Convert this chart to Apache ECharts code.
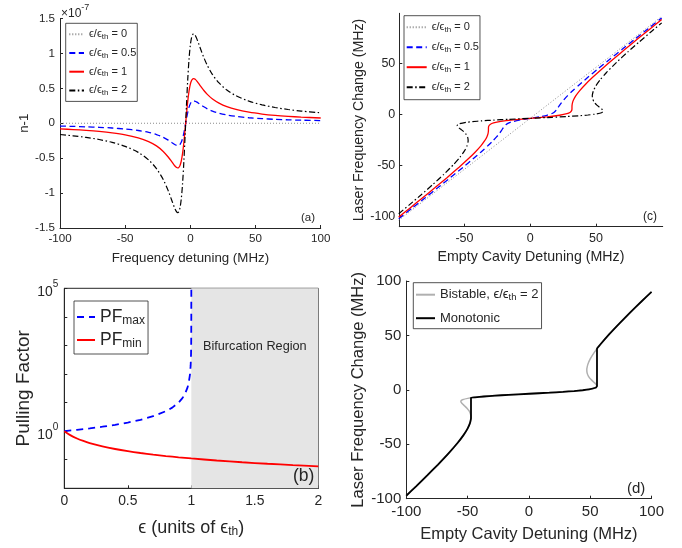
<!DOCTYPE html>
<html><head><meta charset="utf-8">
<script src="https://cdn.jsdelivr.net/npm/echarts@6/dist/echarts.min.js"></script>
<style>html,body{margin:0;padding:0;background:#fff}#c{width:682px;height:548px}</style>
</head><body><div id="c"></div>
<script>
// ---------- Panel (a): n-1 (units of 1e-7) vs frequency detuning (MHz)
const detuningA = [-100,-90,-80,-70,-60,-50,-40,-32,-26,-21,-17,-14,-12,-10.5,-9.7,-9,-8,-7,-6,-5,-4,-3,-2,-1,0,1,2,2.5,3.2,4,5,6.5,8,10,13,17,22,28,35,45,55,65,75,85,100];
const detuningA0 = [-100, 100];
const nA_eps0 = [0, 0];
const nA_eps05 = [-0.040,-0.045,-0.051,-0.058,-0.068,-0.083,-0.104,-0.131,-0.162,-0.200,-0.241,-0.279,-0.304,-0.318,-0.320,-0.318,-0.304,-0.272,-0.218,-0.140,-0.042,0.062,0.157,0.231,0.280,0.308,0.319,0.320,0.318,0.312,0.302,0.283,0.264,0.239,0.207,0.174,0.144,0.119,0.099,0.079,0.066,0.056,0.049,0.044,0.038];
const nA_eps1 = [-0.081,-0.090,-0.102,-0.117,-0.137,-0.165,-0.209,-0.263,-0.324,-0.400,-0.483,-0.558,-0.609,-0.635,-0.640,-0.635,-0.607,-0.544,-0.436,-0.279,-0.084,0.125,0.314,0.462,0.560,0.615,0.638,0.640,0.636,0.625,0.604,0.566,0.527,0.478,0.414,0.348,0.289,0.238,0.197,0.158,0.132,0.113,0.099,0.088,0.075];
const nA_eps2 = [-0.161,-0.180,-0.203,-0.233,-0.274,-0.331,-0.417,-0.526,-0.649,-0.799,-0.965,-1.117,-1.217,-1.270,-1.280,-1.271,-1.215,-1.089,-0.872,-0.558,-0.167,0.249,0.628,0.923,1.121,1.231,1.275,1.280,1.272,1.250,1.208,1.133,1.055,0.956,0.829,0.697,0.577,0.476,0.395,0.316,0.264,0.226,0.197,0.175,0.150];

// ---------- Panel (c): laser frequency change vs empty cavity detuning (MHz)
const cavC_eps0 = [-100, 100];
const lasC_eps0 = [-103.6, 96.4];
const cavC_eps05 = [-100.01,-89.69,-79.90,-70.18,-60.55,-51.06,-43.65,-37.38,-32.27,-28.31,-25.45,-23.55,-21.90,-20.38,-18.25,-16.20,-12.70,-7.18,0,7.18,12.70,16.20,18.25,20.38,21.90,23.55,25.45,28.31,32.27,37.38,43.65,51.06,60.55,70.18,79.90,89.69,100.01];
const lasC_eps05 = [-102.1,-91.6,-81.6,-71.6,-61.6,-51.6,-43.6,-36.6,-30.6,-25.6,-21.6,-18.6,-15.6,-12.6,-9.6,-8.1,-6.6,-5.1,-3.6,-2.1,-0.6,0.9,2.4,5.4,8.4,11.4,14.4,18.4,23.4,29.4,36.4,44.4,54.4,64.4,74.4,84.4,94.9];
const cavC_eps1 = [-100.07,-91.38,-81.81,-72.36,-63.10,-54.13,-47.30,-41.76,-37.53,-34.62,-32.90,-32.10,-31.81,-31.78,-31.76,-31.49,-30.50,-27.91,-22.40,-12.86,0,12.86,22.40,27.91,30.50,31.49,31.76,31.78,31.81,32.10,32.90,34.62,37.53,41.76,47.30,54.13,63.10,72.36,81.81,91.38,100.07];
const lasC_eps1 = [-100.6,-91.6,-81.6,-71.6,-61.6,-51.6,-43.6,-36.6,-30.6,-25.6,-21.6,-18.6,-16.1,-14.17,-12.6,-11.1,-9.6,-8.1,-6.6,-5.1,-3.6,-2.1,-0.6,0.9,2.4,3.9,5.4,6.97,8.9,11.4,14.4,18.4,23.4,29.4,36.4,44.4,54.4,64.4,74.4,84.4,93.4];
const cavC_eps2 = [-100.05,-92.0,-82.92,-74.12,-65.74,-58.05,-53.34,-50.03,-48.07,-47.28,-47.23,-47.52,-48.62,-50.69,-52.57,-54.52,-55.54,-54.24,-48.94,-43.92,-36.89,-27.73,-16.65,0,16.65,27.73,36.89,43.92,48.94,54.24,55.54,54.52,52.57,50.69,48.62,47.52,47.23,47.28,48.07,50.03,53.34,58.05,65.74,74.12,82.92,92.0,100.05];
const lasC_eps2 = [-97.3,-88.6,-78.6,-68.6,-58.6,-48.6,-41.6,-35.6,-30.6,-26.6,-25.4,-22.6,-19.6,-16.6,-14.6,-12.6,-10.66,-9.1,-7.6,-6.85,-6.1,-5.35,-4.6,-3.6,-2.6,-1.85,-1.1,-0.35,0.4,1.9,3.46,5.4,7.4,9.4,12.4,15.4,18.2,19.4,23.4,28.4,34.4,41.4,51.4,61.4,71.4,81.4,90.1];
const xTicksC = [-50, 0, 50];
const yTicksC = [-100, -50, 0, 50];

// ---------- Panel (b): pulling factor vs epsilon (units of eps_th)
const epsB_max = [0,0.1,0.2,0.3,0.4,0.5,0.6,0.7,0.8,0.85,0.9,0.93,0.95,0.97,0.98,0.99,0.995,0.998,0.999,0.9995,0.9999,0.99999];
const pfMax = [1,1.111,1.25,1.429,1.667,2,2.5,3.333,5,6.667,10,14.29,20,33.33,50,100,200,500,1000,2000,10000,100000];
const epsB_min = [0,0.05,0.1,0.15,0.2,0.3,0.4,0.5,0.6,0.7,0.8,0.9,1.0,1.2,1.4,1.6,1.8,2.0];
const pfMin = [1,0.7135,0.5546,0.4536,0.3837,0.2933,0.2374,0.1994,0.1719,0.1510,0.1347,0.1216,0.1107,0.0940,0.0817,0.0722,0.0647,0.0586];
const bifurcationRange = [1, 2];

// ---------- Panel (d): bistable vs monotonic response
const cavD_mono = [-100.05,-92.0,-82.92,-74.12,-65.74,-58.05,-53.34,-50.03,-48.07,-47.28,-47.23,-47.23,-43.92,-36.89,-27.73,-16.65,0,16.65,27.73,36.89,43.92,48.94,54.24,55.54,55.54,58.05,65.74,74.12,82.92,92.0,100.05];
const lasD_mono = [-97.3,-88.6,-78.6,-68.6,-58.6,-48.6,-41.6,-35.6,-30.6,-26.6,-25.4,-7.31,-6.85,-6.1,-5.35,-4.6,-3.6,-2.6,-1.85,-1.1,-0.35,0.4,1.9,3.46,37.7,41.4,51.4,61.4,71.4,81.4,90.1];

// ---------- helpers
const FONT = '"Liberation Sans", "DejaVu Sans", Arial, sans-serif';
const AX = '#262626';
const zip = (xs, ys) => xs.map((x, i) => [x, ys[i]]);

function axis(o) {
  const a = {
    gridIndex: o.grid, type: o.type || 'value', min: o.min, max: o.max,
    axisLine: { show: true, onZero: false, lineStyle: { color: AX, width: 1 } },
    axisTick: { show: true, inside: true, length: 3, lineStyle: { color: AX, width: 1 } },
    axisLabel: { color: AX, fontFamily: FONT, fontSize: o.fs, margin: o.margin || 5 },
    splitLine: { show: false },
    name: o.name, nameLocation: 'middle', nameGap: o.nameGap,
    nameTextStyle: { color: AX, fontFamily: FONT, fontSize: o.nfs, rich: o.nrich }
  };
  if (o.interval !== undefined) a.interval = o.interval;
  if (o.ticks) { a.axisLabel.customValues = o.ticks; a.axisTick.customValues = o.ticks; }
  if (o.formatter) a.axisLabel.formatter = o.formatter;
  if (o.rich) a.axisLabel.rich = o.rich;
  if (o.logBase) a.logBase = o.logBase;
  return a;
}

const epsRich = (fs, sfs) => ({
  e: { fontFamily: FONT, fontSize: fs, color: AX, lineHeight: fs + 3 },
  s: { fontFamily: FONT, fontSize: sfs, color: AX, padding: [Math.round(fs*0.45), 0, 0, 0], lineHeight: fs + 3 }
});
const legendLabels = {
  a0: '{e|ϵ/ϵ}{s|th}{e| = 0}', a05: '{e|ϵ/ϵ}{s|th}{e| = 0.5}', a1: '{e|ϵ/ϵ}{s|th}{e| = 1}', a2: '{e|ϵ/ϵ}{s|th}{e| = 2}',
  c0: '{e|ϵ/ϵ}{s|th}{e| = 0}', c05: '{e|ϵ/ϵ}{s|th}{e| = 0.5}', c1: '{e|ϵ/ϵ}{s|th}{e| = 1}', c2: '{e|ϵ/ϵ}{s|th}{e| = 2}',
  bmax: '{e|PF}{s|max}', bmin: '{e|PF}{s|min}',
  dbis: '{e|Bistable, ϵ/ϵ}{s|th}{e| = 2}', dmono: '{e|Monotonic}'
};

const DOT = { color: '#8a8a8a', width: 1, type: [1, 2] };
const DASH = { color: '#0000ff', width: 1.3, type: [6, 3.5] };
const SOLID = { color: '#ff0000', width: 1.3, type: 'solid' };
const DASHDOT = { color: '#000000', width: 1.2, type: [6, 2.5, 1.5, 2.5] };

function line(name, xi, data, ls, extra) {
  return Object.assign({
    type: 'line', name, xAxisIndex: xi, yAxisIndex: xi, data, symbol: 'none',
    showSymbol: false, color: ls.color, lineStyle: ls, z: 3, silent: true, animation: false
  }, extra || {});
}

function legend(o) {
  return {
    data: o.data, orient: 'vertical', left: o.left, top: o.top,
    backgroundColor: '#fff', borderColor: AX, borderWidth: 0.8, borderRadius: 0,
    padding: o.padding, itemWidth: o.itemWidth, itemHeight: 6, itemGap: o.itemGap,
    selectedMode: false,
    itemStyle: { opacity: 0 },
    formatter: n => legendLabels[n],
    textStyle: { fontFamily: FONT, fontSize: o.fs, color: AX, rich: epsRich(o.fs, o.sfs) }
  };
}

const option = {
  animation: false,
  backgroundColor: '#fff',
  grid: [
    { left: 60, top: 18.5, width: 260.7, height: 209.5 },
    { left: 399.3, top: 13.3, width: 263.4, height: 213.4 },
    { left: 64.3, top: 288.3, width: 254, height: 200, show: true, borderColor: AX, borderWidth: 1, backgroundColor: 'transparent' },
    { left: 406.3, top: 281, width: 245.2, height: 217.7 }
  ],
  xAxis: [
    axis({ grid: 0, min: -100, max: 100, interval: 50, fs: 11.6, name: 'Frequency detuning (MHz)', nameGap: 23.5, nfs: 13.3 }),
    axis({ grid: 1, min: -99.6, max: 100.8, ticks: xTicksC, fs: 12.5, name: 'Empty Cavity Detuning (MHz)', nameGap: 23.5, nfs: 14.2 }),
    axis({ grid: 2, min: 0, max: 2, interval: 0.5, fs: 13.9, margin: 6,
      name: '{e|ϵ (units of ϵ}{s|th}{e|)}', nameGap: 29, nfs: 18, nrich: epsRich(18, 12) }),
    axis({ grid: 3, min: -100, max: 100, interval: 50, fs: 15, margin: 6, name: 'Empty Cavity Detuning (MHz)', nameGap: 27.5, nfs: 16.5 })
  ],
  yAxis: [
    axis({ grid: 0, min: -1.5, max: 1.5, interval: 0.5, fs: 11.6, name: 'n-1', nameGap: 15.5, nfs: 13.3 }),
    axis({ grid: 1, min: -110, max: 99.5, ticks: yTicksC, fs: 12.5, margin: 4, name: 'Laser Frequency Change (MHz)', nameGap: 27, nfs: 14.2 }),
    axis({ grid: 2, type: 'log', logBase: 10, min: 0.01, max: 100000, fs: 13.9, margin: 6,
      formatter: v => { const e = Math.round(Math.log10(v)); return (e === 0 || e === 5) ? '{b|10}{p|' + e + '}' : ''; },
      rich: { b: { fontFamily: FONT, fontSize: 13.9, color: AX, padding: [8, 0, 0, 0] }, p: { fontFamily: FONT, fontSize: 10, color: AX, padding: [0, 0, 8, 0] } },
      name: 'Pulling Factor', nameGap: 31.5, nfs: 19 }),
    axis({ grid: 3, min: -100, max: 100, interval: 50, fs: 15, margin: 5, name: 'Laser Frequency Change (MHz)', nameGap: 33, nfs: 16.5 })
  ],
  legend: [
    legend({ data: ['a0','a05','a1','a2'], left: 65.7, top: 23.3, padding: [4.5, 1, 4.5, 2.6], itemWidth: 14.7, itemGap: 5.7, fs: 11, sfs: 8 }),
    legend({ data: ['c0','c05','c1','c2'], left: 404, top: 15.7, padding: [5, 1, 6, 1.7], itemWidth: 20, itemGap: 7, fs: 11, sfs: 8 }),
    legend({ data: ['bmax','bmin'], left: 74, top: 301, padding: [6, 3, 4, 2], itemWidth: 18, itemGap: 3, fs: 17.5, sfs: 12 }),
    legend({ data: ['dbis','dmono'], left: 413.3, top: 282.7, padding: [4, 3, 4, 1.7], itemWidth: 19, itemGap: 9, fs: 13, sfs: 9.5 })
  ],
  series: [
    line('a0', 0, zip(detuningA0, nA_eps0), DOT),
    line('a05', 0, zip(detuningA, nA_eps05), DASH, { smooth: 0.3 }),
    line('a1', 0, zip(detuningA, nA_eps1), SOLID, { smooth: 0.3 }),
    line('a2', 0, zip(detuningA, nA_eps2), DASHDOT, { smooth: 0.3 }),

    line('c0', 1, zip(cavC_eps0, lasC_eps0), DOT),
    line('c05', 1, zip(cavC_eps05, lasC_eps05), DASH, { smooth: 0.2 }),
    line('c1', 1, zip(cavC_eps1, lasC_eps1), SOLID, { smooth: 0.2 }),
    line('c2', 1, zip(cavC_eps2, lasC_eps2), DASHDOT, { smooth: 0.2 }),

    { type: 'line', name: 'bifurcation', xAxisIndex: 2, yAxisIndex: 2, data: [], z: 1, silent: true,
      markArea: { silent: true, itemStyle: { color: '#e5e5e5' },
        label: { show: true, position: ['50%', 58], align: 'center', verticalAlign: 'middle', color: AX, fontFamily: FONT, fontSize: 12.7 },
        data: [[{ xAxis: bifurcationRange[0], name: 'Bifurcation Region' }, { xAxis: bifurcationRange[1] }]] } },
    line('bmax', 2, zip(epsB_max, pfMax), { color: '#0000ff', width: 1.8, type: [7, 5] }),
    line('bmin', 2, zip(epsB_min, pfMin), { color: '#ff0000', width: 1.8, type: 'solid' }, { smooth: 0.3 }),

    line('dbis', 3, zip(cavC_eps2, lasC_eps2), { color: '#b0b0b0', width: 1.5, type: 'solid' }, { smooth: 0.2, z: 2 }),
    line('dmono', 3, zip(cavD_mono, lasD_mono), { color: '#000000', width: 1.8, type: 'solid' }, { smooth: 0.15, z: 3 })
  ],
  graphic: [
    { type: 'text', left: 61, top: 3, z: 10, style: { text: '{a|×10}{b|-7}', rich: {
      a: { fontFamily: FONT, fontSize: 12, fill: AX, padding: [6, 0, 0, 0] }, b: { fontFamily: FONT, fontSize: 9, fill: AX, padding: [0, 0, 6, 0] } } } },
    { type: 'text', left: 301, top: 212, z: 10, style: { text: '(a)', fontFamily: FONT, fontSize: 11.5, fill: AX } },
    { type: 'text', left: 643, top: 211, z: 10, style: { text: '(c)', fontFamily: FONT, fontSize: 12, fill: AX } },
    { type: 'text', left: 293, top: 467, z: 10, style: { text: '(b)', fontFamily: FONT, fontSize: 17.5, fill: AX } },
    { type: 'text', left: 627, top: 481, z: 10, style: { text: '(d)', fontFamily: FONT, fontSize: 15, fill: AX } }
  ]
};

const chart = echarts.init(document.getElementById('c'), null, { renderer: 'canvas' });
chart.setOption(option);
</script></body></html>
